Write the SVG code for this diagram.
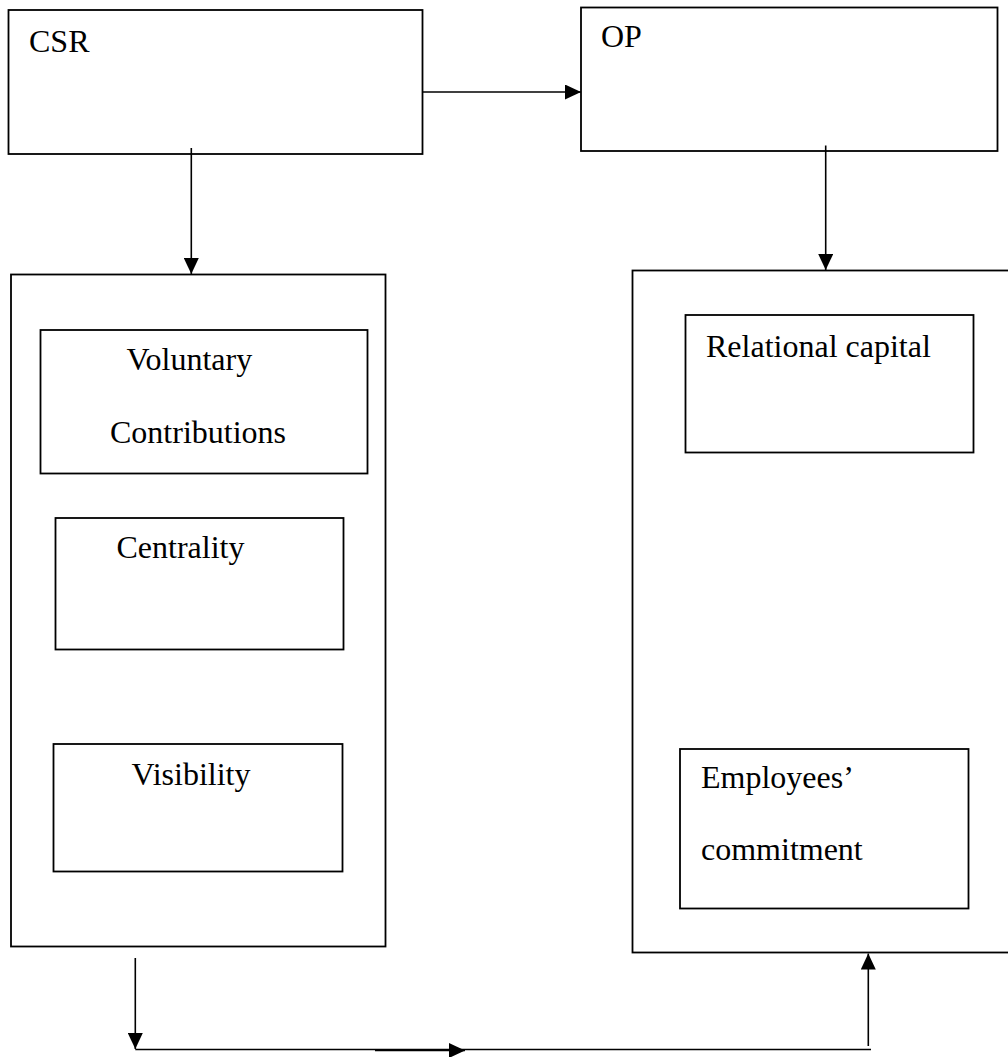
<svg xmlns="http://www.w3.org/2000/svg" width="1008" height="1057" viewBox="0 0 1008 1057">
<style>
.box{fill:none;stroke:#000;stroke-width:1.8}
.lbl{font-family:"Liberation Serif","Times New Roman",serif;font-size:32px;fill:#000}
.con{fill:none;stroke:#000;stroke-width:1.6}
</style>
<defs>
<marker id="ah" viewBox="0 0 16 15" refX="16" refY="7.5" markerWidth="16" markerHeight="15" markerUnits="userSpaceOnUse" orient="auto">
<path d="M0,0 L16,7.5 L0,15 z" fill="#000"/>
</marker>
</defs>
<rect width="1008" height="1057" fill="#fff"/>
<g id="csr">
<rect class="box" x="8.5" y="10" width="414" height="144"/>
<text class="lbl" x="29" y="52">CSR</text>
</g>
<g id="op">
<rect class="box" x="581" y="7.5" width="416.5" height="143.5"/>
<text class="lbl" x="601" y="47">OP</text>
</g>
<g id="csr-dimensions">
<rect class="box" x="11" y="274.5" width="374.5" height="672"/>
</g>
<g id="voluntary-contributions">
<rect class="box" x="40.5" y="330" width="327" height="143.5"/>
<text class="lbl" x="126.5" y="370">Voluntary</text>
<text class="lbl" x="110" y="443">Contributions</text>
</g>
<g id="centrality">
<rect class="box" x="55.5" y="518" width="288" height="131.5"/>
<text class="lbl" x="116.5" y="558">Centrality</text>
</g>
<g id="visibility">
<rect class="box" x="53.5" y="744" width="289" height="127.5"/>
<text class="lbl" x="131.5" y="785">Visibility</text>
</g>
<g id="op-dimensions">
<rect class="box" x="632.5" y="270.5" width="380" height="682"/>
</g>
<g id="relational-capital">
<rect class="box" x="685.5" y="315" width="288" height="137.5"/>
<text class="lbl" x="706" y="357">Relational capital</text>
</g>
<g id="employees-commitment">
<rect class="box" x="680" y="749" width="288.5" height="159.5"/>
<text class="lbl" x="701" y="788">Employees’</text>
<text class="lbl" x="701" y="860">commitment</text>
</g>
<g id="connectors">
<line class="con" x1="423" y1="92" x2="581" y2="92" marker-end="url(#ah)"/>
<line class="con" x1="191.3" y1="148" x2="191.3" y2="274" marker-end="url(#ah)"/>
<line class="con" x1="825.7" y1="145.5" x2="825.7" y2="270" marker-end="url(#ah)"/>
<line class="con" x1="135.3" y1="958" x2="135.3" y2="1049" marker-end="url(#ah)"/>
<line class="con" x1="135.3" y1="1049.5" x2="871" y2="1049.5"/>
<line class="con" x1="375" y1="1050.5" x2="465" y2="1050.5" stroke-width="2" marker-end="url(#ah)"/>
<line class="con" x1="868.3" y1="1046" x2="868.3" y2="953.5" marker-end="url(#ah)"/>
</g>
</svg>
